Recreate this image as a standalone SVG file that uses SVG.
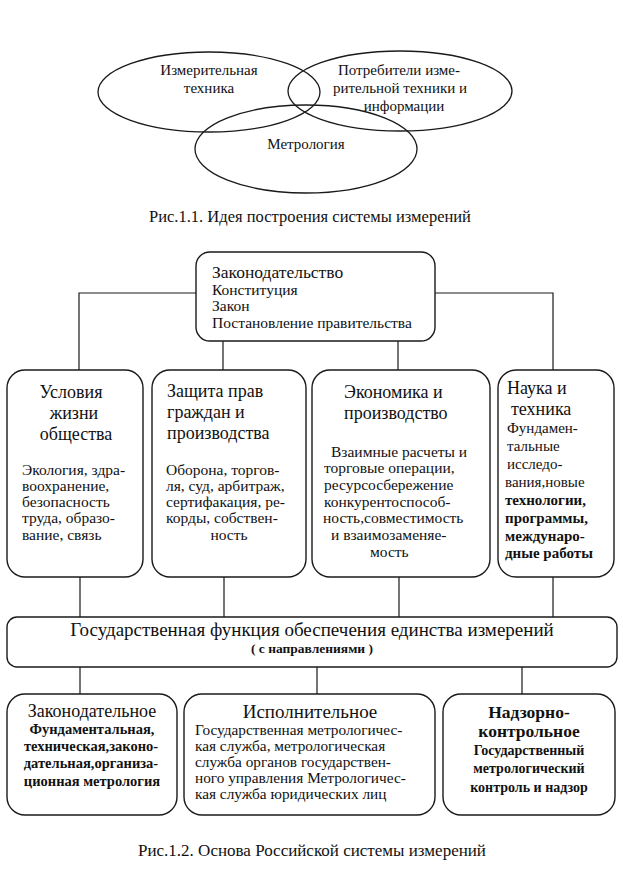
<svg xmlns="http://www.w3.org/2000/svg" width="623" height="876" viewBox="0 0 623 876">
<style>
.sh{fill:none;stroke:#1a1a1a;stroke-width:1.3}
.bx{fill:#fff;stroke:#1a1a1a;stroke-width:1.4}
.ln{fill:none;stroke:#1a1a1a;stroke-width:1.2}
text{font-family:"Liberation Serif","Times New Roman",serif;fill:#111}
.v{font-size:15px}
.h{font-size:18px}
.p{font-size:15.5px}
.s{font-size:15px}
.e{font-size:15.3px}
.b{font-weight:bold}
.c{text-anchor:middle}
</style>
<rect width="623" height="876" fill="#fff"/>
<g id="venn">
<ellipse class="sh" cx="209" cy="92" rx="111" ry="40"/>
<ellipse class="sh" cx="400" cy="91" rx="112" ry="40"/>
<ellipse class="sh" cx="306" cy="149" rx="111" ry="44"/>
<text class="v c" x="209" y="75">Измерительная</text>
<text class="v c" x="209" y="93">техника</text>
<text class="v c" x="399" y="75">Потребители изме-</text>
<text class="v c" x="400" y="93">рительной техники и</text>
<text class="v c" x="404" y="111">информации</text>
<text class="v c" x="306" y="149">Метрология</text>
</g>
<text id="cap1" class="c" style="font-size:16.5px" x="310" y="222">Рис.1.1. Идея построения системы измерений</text>
<g id="connectors">
<path class="ln" d="M196 293H79V370M435 293H553V370M223 341V370M398 341V370"/>
<path class="ln" d="M80 577V617M224 577V617M399 577V617M553 577V617"/>
<path class="ln" d="M80 667V694M317 667V694M522 667V694"/>
</g>
<g id="law">
<rect class="bx" x="196" y="252" width="239" height="89" rx="14"/>
<text style="font-size:17.5px" x="212" y="278">Законодательство</text>
<text style="font-size:15.5px" x="212" y="295">Конституция</text>
<text style="font-size:15.5px" x="212" y="311">Закон</text>
<text style="font-size:15.5px" x="212" y="328">Постановление правительства</text>
</g>
<g id="life">
<rect class="bx" x="7" y="370" width="136" height="207" rx="18"/>
<text class="h c" x="71" y="398">Условия</text>
<text class="h c" x="74" y="419">жизни</text>
<text class="h c" x="76" y="440">общества</text>
<text class="p" x="22" y="475">Экология, здра-</text>
<text class="p" x="22" y="491">воохранение,</text>
<text class="p" x="22" y="507">безопасность</text>
<text class="p" x="22" y="523">труда, образо-</text>
<text class="p" x="22" y="540">вание, связь</text>
</g>
<g id="rights">
<rect class="bx" x="152" y="370" width="154" height="207" rx="18"/>
<text class="h" x="167" y="397">Защита прав</text>
<text class="h" x="167" y="418">граждан и</text>
<text class="h" x="167" y="439">производства</text>
<text class="p" x="166" y="475">Оборона, торгов-</text>
<text class="p" x="166" y="491">ля, суд, арбитраж,</text>
<text class="p" x="166" y="507">сертифакация, ре-</text>
<text class="p" x="166" y="523">корды, собствен-</text>
<text class="p c" x="229" y="540">ность</text>
</g>
<g id="economy">
<rect class="bx" x="312" y="370" width="178" height="207" rx="18"/>
<text class="h" x="344" y="398">Экономика и</text>
<text class="h" x="344" y="419">производство</text>
<text class="p" x="331" y="457">Взаимные расчеты и</text>
<text class="p" x="324" y="473">торговые операции,</text>
<text class="p" x="324" y="490">ресурсосбережение</text>
<text class="p" x="324" y="507">конкурентоспособ-</text>
<text class="p" x="323" y="523">ность,совместимость</text>
<text class="p" x="331" y="540">и взаимозаменяе-</text>
<text class="p" x="370" y="557">мость</text>
</g>
<g id="science">
<rect class="bx" x="498" y="370" width="116" height="207" rx="18"/>
<text class="h" x="507" y="394">Наука и</text>
<text class="h" x="511" y="415">техника</text>
<text class="s" x="507" y="433">Фундамен-</text>
<text class="s" x="507" y="451">тальные</text>
<text class="s" x="507" y="469">исследо-</text>
<text class="s" x="505" y="487">вания,новые</text>
<text class="s b" x="505" y="505">технологии,</text>
<text class="s b" x="505" y="523">программы,</text>
<text class="s b" x="505" y="541">междунаро-</text>
<text class="s b" x="505" y="558">дные работы</text>
</g>
<g id="state">
<rect class="bx" x="7" y="617" width="610" height="50" rx="10"/>
<text class="c" style="font-size:19px" x="312" y="636">Государственная функция обеспечения единства измерений</text>
<text class="c b" style="font-size:13.5px" x="312" y="653">( с направлениями )</text>
</g>
<g id="legislative">
<rect class="bx" x="7" y="694" width="170" height="121" rx="18"/>
<text class="c" style="font-size:18px" x="92" y="717">Законодательное</text>
<text class="c b" style="font-size:14.5px" x="92" y="734">Фундаментальная,</text>
<text class="c b" style="font-size:14.5px" x="91" y="751">техническая,законо-</text>
<text class="c b" style="font-size:14.5px" x="91" y="768">дательная,организа-</text>
<text class="c b" style="font-size:14.5px" x="92" y="786">ционная метрология</text>
</g>
<g id="executive">
<rect class="bx" x="184" y="694" width="251" height="121" rx="18"/>
<text class="c" style="font-size:19px" x="310" y="718">Исполнительное</text>
<text class="e" x="195" y="735">Государственная метрологичес-</text>
<text class="e" x="195" y="751">кая служба, метрологическая</text>
<text class="e" x="195" y="767">служба органов государствен-</text>
<text class="e" x="195" y="783">ного управления Метрологичес-</text>
<text class="e" x="195" y="799">кая служба юридических лиц</text>
</g>
<g id="supervisory">
<rect class="bx" x="443" y="694" width="172" height="121" rx="18"/>
<text class="c b" style="font-size:17.5px" x="529" y="718">Надзорно-</text>
<text class="c b" style="font-size:17.5px" x="529" y="737">контрольное</text>
<text class="c b" style="font-size:14px" x="529" y="755">Государственный</text>
<text class="c b" style="font-size:14px" x="529" y="773">метрологический</text>
<text class="c b" style="font-size:14px" x="529" y="792">контроль и надзор</text>
</g>
<text id="cap2" class="c" style="font-size:17px" x="312" y="856">Рис.1.2. Основа Российской системы измерений</text>
</svg>
